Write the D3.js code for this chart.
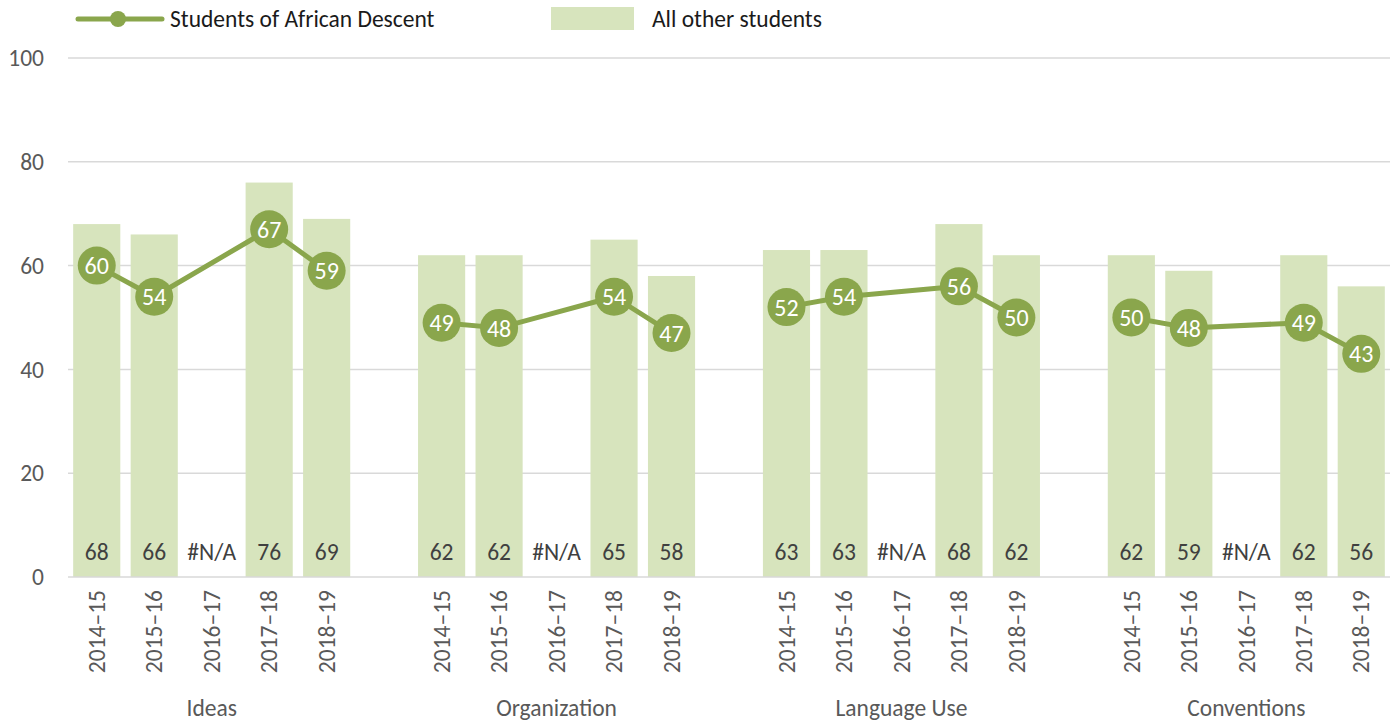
<!DOCTYPE html>
<html>
<head>
<meta charset="utf-8">
<script src="https://cdn.jsdelivr.net/npm/d3@7"></script>
<style>
  body { margin: 0; background: #fff; }
  text { font-family: Carlito, Calibri, Lato, "Open Sans", sans-serif; }
</style>
</head>
<body>
<svg id="chart" width="1395" height="723"></svg>
<script>
const groups = ["Ideas", "Organization", "Language Use", "Conventions"];
const years = ["2014–15", "2015–16", "2016–17", "2017–18", "2018–19"];
// All other students (bars), null = #N/A
const otherIdeas = [68, 66, null, 76, 69];
const otherOrg = [62, 62, null, 65, 58];
const otherLang = [63, 63, null, 68, 62];
const otherConv = [62, 59, null, 62, 56];
// Students of African Descent (line)
const afrIdeas = [60, 54, null, 67, 59];
const afrOrg = [49, 48, null, 54, 47];
const afrLang = [52, 54, null, 56, 50];
const afrConv = [50, 48, null, 49, 43];
const yTicks = [0, 20, 40, 60, 80, 100];

const otherAll = [otherIdeas, otherOrg, otherLang, otherConv];
const afrAll = [afrIdeas, afrOrg, afrLang, afrConv];

const green = "#8aa64c";
const lightGreen = "#d7e4bd";
const grey = "#595959";
const fs = "23.5px";

const svg = d3.select("#chart");
const plotLeft = 68, plotRight = 1390, plotTop = 58, plotBottom = 577;

// slots: 5 per group plus one empty slot between groups
const slots = [];
groups.forEach((g, gi) => {
  years.forEach(yr => slots.push(g + "|" + yr));
  if (gi < groups.length - 1) slots.push("gap" + gi);
});

const x = d3.scaleBand().domain(slots).range([plotLeft, plotRight])
  .paddingInner(0.18).paddingOuter(0.09);
const y = d3.scaleLinear().domain([0, 100]).range([plotBottom, plotTop]);

const rows = [];
groups.forEach((g, gi) => {
  years.forEach((yr, yi) => {
    rows.push({ key: g + "|" + yr, group: g, year: yr,
      other: otherAll[gi][yi], afr: afrAll[gi][yi] });
  });
});

// gridlines
svg.append("g").selectAll("line")
  .data(yTicks.filter(d => d > 0))
  .join("line")
  .attr("x1", plotLeft).attr("x2", plotRight)
  .attr("y1", d => y(d)).attr("y2", d => y(d))
  .attr("stroke", "#d9d9d9").attr("stroke-width", 1.5);

// y tick labels
svg.append("g").selectAll("text")
  .data(yTicks)
  .join("text")
  .attr("x", 44).attr("y", d => y(d))
  .attr("dy", "0.35em")
  .attr("text-anchor", "end")
  .attr("fill", grey)
  .style("font-size", fs)
  .text(d => d);

// bars
svg.append("g").selectAll("rect")
  .data(rows.filter(d => d.other != null))
  .join("rect")
  .attr("x", d => x(d.key))
  .attr("width", x.bandwidth())
  .attr("y", d => y(d.other))
  .attr("height", d => y(0) - y(d.other))
  .attr("fill", lightGreen);

// axis line
svg.append("line")
  .attr("x1", plotLeft).attr("x2", plotRight)
  .attr("y1", y(0)).attr("y2", y(0))
  .attr("stroke", "#d9d9d9").attr("stroke-width", 1.5);

// bar labels (inside base)
svg.append("g").selectAll("text")
  .data(rows)
  .join("text")
  .attr("x", d => x(d.key) + x.bandwidth() / 2)
  .attr("y", y(0) - 25)
  .attr("dy", "0.35em")
  .attr("text-anchor", "middle")
  .attr("fill", "#404040")
  .style("font-size", fs)
  .text(d => d.other == null ? "#N/A" : d.other);

// line per group, skipping missing points
const line = d3.line()
  .x(d => x(d.key) + x.bandwidth() / 2)
  .y(d => y(d.afr));

groups.forEach(g => {
  const pts = rows.filter(d => d.group === g && d.afr != null);
  svg.append("path")
    .datum(pts)
    .attr("d", line)
    .attr("fill", "none")
    .attr("stroke", green)
    .attr("stroke-width", 5)
    .attr("stroke-linejoin", "round");
});

const dots = svg.append("g").selectAll("g")
  .data(rows.filter(d => d.afr != null))
  .join("g")
  .attr("transform", d => `translate(${x(d.key) + x.bandwidth() / 2},${y(d.afr)})`);
dots.append("circle").attr("r", 19).attr("fill", green);
dots.append("text")
  .attr("dy", "0.36em")
  .attr("text-anchor", "middle")
  .attr("fill", "#fff")
  .style("font-size", "24px")
  .text(d => d.afr);

// year labels, rotated
svg.append("g").selectAll("text")
  .data(rows)
  .join("text")
  .attr("transform", d => `translate(${x(d.key) + x.bandwidth() / 2},${y(0) + 13}) rotate(-90)`)
  .attr("dy", "0.35em")
  .attr("text-anchor", "end")
  .attr("fill", grey)
  .style("font-size", fs)
  .text(d => d.year);

// group labels under middle slot
svg.append("g").selectAll("text")
  .data(groups)
  .join("text")
  .attr("x", g => x(g + "|" + years[2]) + x.bandwidth() / 2)
  .attr("y", 708)
  .attr("dy", "0.35em")
  .attr("text-anchor", "middle")
  .attr("fill", grey)
  .style("font-size", fs)
  .text(g => g);

// legend
const lg = svg.append("g");
lg.append("line").attr("x1", 78).attr("x2", 162).attr("y1", 19).attr("y2", 19)
  .attr("stroke", green).attr("stroke-width", 5).attr("stroke-linecap", "round");
lg.append("circle").attr("cx", 118).attr("cy", 19).attr("r", 8).attr("fill", green);
lg.append("text").attr("x", 170).attr("y", 19).attr("dy", "0.35em")
  .attr("fill", "#1a1a1a").style("font-size", fs).text("Students of African Descent");
lg.append("rect").attr("x", 551).attr("y", 7).attr("width", 83).attr("height", 23)
  .attr("fill", lightGreen);
lg.append("text").attr("x", 652).attr("y", 19).attr("dy", "0.35em")
  .attr("fill", "#1a1a1a").style("font-size", fs).text("All other students");
</script>
</body>
</html>
